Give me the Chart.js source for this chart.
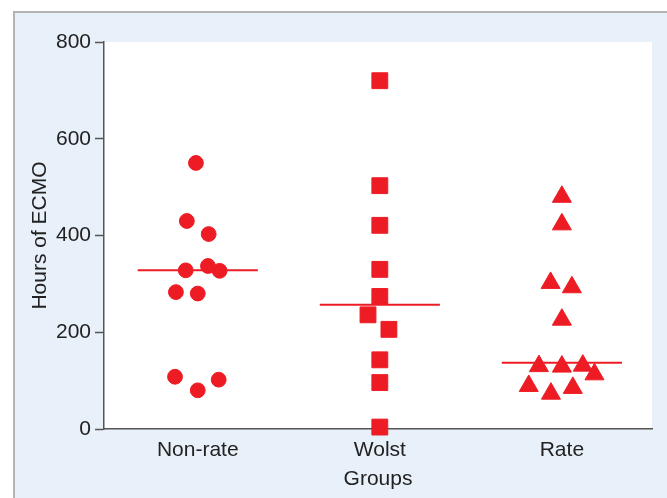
<!DOCTYPE html>
<html>
<head>
<meta charset="utf-8">
<script src="https://cdn.jsdelivr.net/npm/chart.js@4"></script>
<style>
  html, body { margin: 0; padding: 0; background: #fff; }
  #wrap { width: 667px; height: 498px; }
</style>
</head>
<body>
<div id="wrap"><canvas id="ecmo-chart" width="667" height="498"></canvas></div>
<script>
// groups on the x axis
var groups = ["Non-rate", "Wolst", "Rate"];
var yTicks = [0, 200, 400, 600, 800];

// hours of ECMO per patient
var nonRateHours = [550, 430, 403, 328, 337, 327, 283, 280, 108, 80, 102];
var wolstHours = [720, 503, 421, 330, 274, 236, 206, 143, 96, 4];
var rateHours = [480, 423, 302, 293, 226, 130, 129, 131, 113, 89, 73, 85];

// horizontal jitter of each dot (in group units)
var nonRateJitter = [-0.01, -0.06, 0.06, -0.066, 0.056, 0.12, -0.12, 0, -0.125, 0, 0.115];
var wolstJitter = [0, 0, 0, 0, 0, -0.065, 0.05, 0, 0, 0];
var rateJitter = [0, 0, -0.062, 0.055, 0, -0.126, 0, 0.115, 0.179, -0.182, -0.06, 0.06];

// median bars
var medians = [328, 257, 137];

var red = "#ED1C24";
var ink = "#222";
var axisColor = "#555";

function toPoints(groupIdx, hours, jitter) {
  var pts = [];
  for (var i = 0; i < hours.length; i++) {
    pts.push({ x: groupIdx + 1 + jitter[i], y: hours[i] });
  }
  return pts;
}

function medianLine(groupIdx) {
  var c = groupIdx + 1;
  return [
    { x: c - 0.33, y: medians[groupIdx] },
    { x: c + 0.33, y: medians[groupIdx] },
  ];
}

// page background: light blue panel with grey frame, white plot area
var panelBg = {
  id: "panelBg",
  beforeDraw: function (chart) {
    var c = chart.ctx;
    var a = chart.chartArea;
    c.save();
    c.fillStyle = "#ffffff";
    c.fillRect(0, 0, chart.width, chart.height);
    c.fillStyle = "#e8f0fa";
    c.fillRect(14, 12, chart.width - 14, chart.height - 12);
    c.strokeStyle = "#b4b4b4";
    c.lineWidth = 2;
    c.beginPath();
    c.moveTo(14, chart.height);
    c.lineTo(14, 12);
    c.lineTo(chart.width, 12);
    c.stroke();
    c.fillStyle = "#ffffff";
    c.fillRect(a.left, a.top, a.right - a.left, a.bottom - a.top);
    c.restore();
  },
};

var font = { family: "'Liberation Sans', Arial, sans-serif", size: 21 };

var pointDefaults = {
  backgroundColor: red,
  borderColor: red,
  borderWidth: 1,
  clip: false,
};

var ctx = document.getElementById("ecmo-chart");
var ecmoChart = new Chart(ctx, {
  type: "scatter",
  data: {
    datasets: [
      Object.assign({
        label: groups[0],
        data: toPoints(0, nonRateHours, nonRateJitter),
        pointStyle: "circle",
        pointRadius: 7.4,
      }, pointDefaults),
      Object.assign({
        label: groups[1],
        data: toPoints(1, wolstHours, wolstJitter),
        pointStyle: "rect",
        pointRadius: 11.2,
      }, pointDefaults),
      Object.assign({
        label: groups[2],
        data: toPoints(2, rateHours, rateJitter),
        pointStyle: "triangle",
        pointRadius: 11,
      }, pointDefaults),
      // median lines
      { data: medianLine(0), showLine: true, borderColor: red, borderWidth: 2, pointRadius: 0 },
      { data: medianLine(1), showLine: true, borderColor: red, borderWidth: 2, pointRadius: 0 },
      { data: medianLine(2), showLine: true, borderColor: red, borderWidth: 2, pointRadius: 0 },
    ],
  },
  options: {
    responsive: false,
    animation: false,
    layout: { padding: { left: 24, top: 42, right: 15, bottom: 2 } },
    plugins: {
      legend: { display: false },
      tooltip: { enabled: false },
    },
    scales: {
      x: {
        type: "linear",
        min: 0.485,
        max: 3.495,
        afterBuildTicks: function (scale) {
          scale.ticks = groups.map(function (g, i) { return { value: i + 1 }; });
        },
        afterFit: function (scale) { scale.height = 67; },
        ticks: {
          color: ink,
          font: font,
          padding: 9,
          maxRotation: 0,
          autoSkip: false,
          callback: function (v) { return groups[Math.round(v) - 1]; },
        },
        grid: { display: true, drawOnChartArea: false, drawTicks: false },
        border: { display: true, color: axisColor, width: 1.5 },
        title: { display: true, text: "Groups", color: ink, font: font },
      },
      y: {
        min: 0,
        max: 800,
        afterBuildTicks: function (scale) {
          scale.ticks = yTicks.map(function (v) { return { value: v }; });
        },
        afterFit: function (scale) { scale.width = 80; },
        ticks: { color: ink, font: font, padding: 4 },
        grid: { display: true, drawOnChartArea: false, tickLength: 9, color: axisColor, tickWidth: 1.5 },
        border: { display: true, color: axisColor, width: 1.5 },
        title: { display: true, text: "Hours of ECMO", color: ink, font: font },
      },
    },
  },
  plugins: [panelBg],
});
</script>
</body>
</html>
